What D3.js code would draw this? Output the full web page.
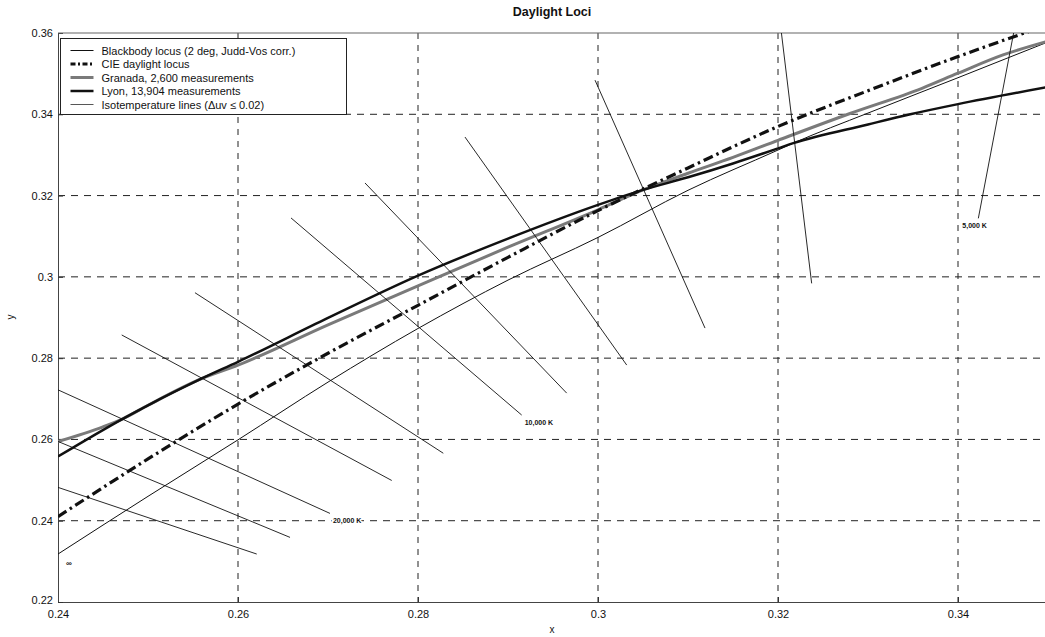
<!DOCTYPE html>
<html>
<head>
<meta charset="utf-8">
<script src="https://cdn.jsdelivr.net/npm/d3@7"></script>
<style>
  body { margin: 0; background: #fff; }
  text { font-family: "Liberation Sans", Arial, sans-serif; fill: #111; }
</style>
</head>
<body>
<svg id="chart" width="1045" height="637"></svg>
<script>
// blackbody locus (2 deg, Judd-Vos corr.)
const blackbodyX = [0.24, 0.25, 0.26, 0.27, 0.28, 0.29, 0.30, 0.31, 0.32, 0.3217, 0.33, 0.34, 0.35];
const blackbodyY = [0.2318, 0.2460, 0.2599, 0.2741, 0.2873, 0.2992, 0.3097, 0.3213, 0.3312, 0.3329, 0.3403, 0.3490, 0.3578];

// CIE daylight locus
const daylightX = [0.24, 0.25, 0.26, 0.27, 0.28, 0.29, 0.30, 0.31, 0.32, 0.33, 0.34, 0.35];
const daylightY = [0.2410, 0.2552, 0.2687, 0.2812, 0.2930, 0.3048, 0.3163, 0.3268, 0.3370, 0.3458, 0.3542, 0.3620];

// Granada, 2,600 measurements
const granadaX = [0.24, 0.245, 0.2473, 0.25, 0.256, 0.26, 0.27, 0.28, 0.29, 0.30, 0.305, 0.31, 0.315, 0.32, 0.328, 0.336, 0.34, 0.345, 0.35];
const granadaY = [0.2595, 0.2631, 0.2652, 0.2684, 0.2750, 0.2783, 0.2882, 0.2978, 0.3073, 0.3165, 0.3214, 0.3255, 0.3294, 0.3336, 0.3402, 0.3464, 0.3501, 0.3546, 0.3580];

// Lyon, 13,904 measurements
const lyonX = [0.24, 0.2473, 0.25, 0.256, 0.26, 0.27, 0.28, 0.29, 0.30, 0.305, 0.31, 0.315, 0.32, 0.3217, 0.33, 0.3347, 0.34, 0.35];
const lyonY = [0.2558, 0.2652, 0.2684, 0.2750, 0.2791, 0.2899, 0.3003, 0.3094, 0.3177, 0.3214, 0.3245, 0.3279, 0.3316, 0.3329, 0.3375, 0.3400, 0.3425, 0.3467];

// isotemperature lines, start and end points
const isoStartX = [0.24, 0.24, 0.24, 0.24708, 0.25522, 0.26589, 0.27411, 0.28522, 0.29967, 0.32014, 0.34889];
const isoStartY = [0.2482, 0.2595, 0.2722, 0.2857, 0.2961, 0.3145, 0.3231, 0.3344, 0.3484, 0.3644, 0.3915];
const isoEndX = [0.26208, 0.26578, 0.27022, 0.27708, 0.28281, 0.29152, 0.29652, 0.30319, 0.31189, 0.32374, 0.34226];
const isoEndY = [0.2318, 0.2359, 0.2418, 0.2499, 0.2566, 0.2660, 0.2714, 0.2783, 0.2874, 0.2984, 0.3144];
const isoLabels = ["", "", "20,000 K", "", "", "10,000 K", "", "", "", "", "5,000 K"];

const xTicks = [0.24, 0.26, 0.28, 0.30, 0.32, 0.34];
const xTickLabels = ["0.24", "0.26", "0.28", "0.3", "0.32", "0.34"];
const yTicks = [0.22, 0.24, 0.26, 0.28, 0.30, 0.32, 0.34, 0.36];
const yTickLabels = ["0.22", "0.24", "0.26", "0.28", "0.3", "0.32", "0.34", "0.36"];

const legendNames = ["Blackbody locus (2 deg, Judd-Vos corr.)", "CIE daylight locus",
  "Granada, 2,600 measurements", "Lyon, 13,904 measurements", "Isotemperature lines (\u0394uv \u2264 0.02)"];

const svg = d3.select("#chart");
const plotLeft = 58, plotRight = 1048, plotTop = 33, plotBottom = 602;

const x = d3.scaleLinear().domain([0.24, 0.35]).range([plotLeft, plotRight]);
const y = d3.scaleLinear().domain([0.22, 0.36]).range([plotBottom, plotTop]);

svg.append("defs").append("clipPath").attr("id", "plotclip")
  .append("rect").attr("x", plotLeft).attr("y", plotTop)
  .attr("width", plotRight - plotLeft).attr("height", plotBottom - plotTop);

// title and axis labels
svg.append("text").attr("x", 552).attr("y", 16).attr("text-anchor", "middle")
  .style("font-size", "12.5px").style("font-weight", "bold").text("Daylight Loci");
svg.append("text").attr("x", 552).attr("y", 633).attr("text-anchor", "middle")
  .style("font-size", "10px").text("x");
svg.append("text").attr("transform", "translate(14,317) rotate(-90)").attr("text-anchor", "middle")
  .style("font-size", "10px").text("y");

// grid
const grid = svg.append("g");
grid.selectAll("line.vgrid").data(xTicks.slice(1)).join("line")
  .attr("class", "vgrid")
  .attr("x1", d => x(d)).attr("x2", d => x(d))
  .attr("y1", plotTop).attr("y2", plotBottom)
  .attr("stroke", "#222").attr("stroke-width", 1).attr("stroke-dasharray", "6,6");
grid.selectAll("line.hgrid").data(yTicks.slice(1, -1)).join("line")
  .attr("class", "hgrid")
  .attr("x1", plotLeft).attr("x2", plotRight)
  .attr("y1", d => y(d)).attr("y2", d => y(d))
  .attr("stroke", "#222").attr("stroke-width", 1).attr("stroke-dasharray", "7,6");

// axes
const xAxis = svg.append("g").attr("transform", `translate(0,${plotBottom})`)
  .call(d3.axisBottom(x).tickValues(xTicks).tickFormat((d, i) => xTickLabels[i]).tickSizeInner(-5).tickSizeOuter(0).tickPadding(10));
const yAxis = svg.append("g").attr("transform", `translate(${plotLeft},0)`)
  .call(d3.axisLeft(y).tickValues(yTicks).tickFormat((d, i) => yTickLabels[i]).tickSizeInner(-5).tickSizeOuter(0).tickPadding(5));
[xAxis, yAxis].forEach(a => {
  a.selectAll("text").style("font-size", "11px").style("font-family", "'Liberation Sans', Arial, sans-serif").attr("fill", "#111");
  a.selectAll("line").attr("stroke", "#333");
  a.select(".domain").attr("stroke", "#444");
});
xAxis.selectAll(".tick text").attr("dy", "0.5em");
yAxis.selectAll(".tick text").filter((d, i) => i === 0).attr("dy", "0.1em");
svg.append("line").attr("x1", plotLeft).attr("x2", plotRight).attr("y1", plotTop).attr("y2", plotTop)
  .attr("stroke", "#666").attr("stroke-width", 1.2);

// curves
const plot = svg.append("g").attr("clip-path", "url(#plotclip)");
const line = d3.line().x(d => x(d[0])).y(d => y(d[1])).curve(d3.curveMonotoneX);
const pairs = (xs, ys) => xs.map((v, i) => [v, ys[i]]);

const series = [
  { pts: pairs(blackbodyX, blackbodyY), color: "#111", width: 1, dash: null },
  { pts: pairs(granadaX, granadaY), color: "#7a7a7a", width: 3, dash: null },
  { pts: pairs(lyonX, lyonY), color: "#111", width: 2.5, dash: null },
  { pts: pairs(daylightX, daylightY), color: "#111", width: 3.2, dash: "10,4,2.5,4" }
];
plot.selectAll("path.series").data(series).join("path")
  .attr("class", "series")
  .attr("d", d => line(d.pts))
  .attr("fill", "none")
  .attr("stroke", d => d.color)
  .attr("stroke-width", d => d.width)
  .attr("stroke-dasharray", d => d.dash);

plot.selectAll("line.iso").data(isoStartX).join("line")
  .attr("class", "iso")
  .attr("x1", (d, i) => x(isoStartX[i])).attr("y1", (d, i) => y(isoStartY[i]))
  .attr("x2", (d, i) => x(isoEndX[i])).attr("y2", (d, i) => y(isoEndY[i]))
  .attr("stroke", "#111").attr("stroke-width", 0.9);

// labels of isotemperature lines (white halo hides the grid behind them)
svg.selectAll("text.isolabel").data(isoLabels.map((t, i) => ({ t, i })).filter(d => d.t)).join("text")
  .attr("class", "isolabel")
  .attr("x", d => x(isoEndX[d.i]) + (d.i === 10 ? -16 : 3))
  .attr("y", d => y(isoEndY[d.i]) + 10)
  .style("font-size", "7px").style("font-weight", "bold")
  .attr("stroke", "#fff").attr("stroke-width", 3).attr("paint-order", "stroke")
  .text(d => d.t);
svg.append("text").attr("x", x(blackbodyX[0]) + 8).attr("y", y(blackbodyY[0]) + 12)
  .style("font-size", "8px").style("font-weight", "bold").text("\u221e");

// legend
const legend = svg.append("g").attr("transform", "translate(60.5,38.5)");
legend.append("rect").attr("width", 286).attr("height", 76)
  .attr("fill", "#fff").attr("stroke", "#222").attr("stroke-width", 1);
const legendStyles = [series[0], series[3], series[1], series[2], { color: "#444", width: 0.9, dash: null }];
legendNames.forEach((name, i) => {
  const yy = 12 + i * 13.5;
  const s = legendStyles[i];
  legend.append("line").attr("x1", 10).attr("x2", 33).attr("y1", yy).attr("y2", yy)
    .attr("stroke", s.color).attr("stroke-width", s.width).attr("stroke-dasharray", s.dash ? "5,2.5,2,2.5" : null);
  legend.append("text").attr("x", 41).attr("y", yy + 4).style("font-size", "11px").text(name);
});
</script>
</body>
</html>
